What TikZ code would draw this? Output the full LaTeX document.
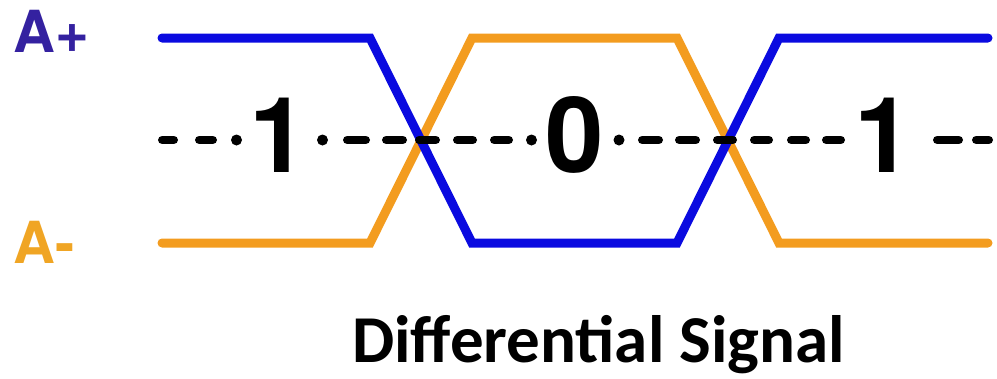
\documentclass[tikz,border=0pt]{standalone}
\usepackage{fontspec}
\newfontfamily\arialb{TeX Gyre Heros}
\newfontfamily\calib{Carlito}
\definecolor{sigblue}{HTML}{0A0AE0}
\definecolor{sigorange}{HTML}{F39C1F}
\definecolor{lblblue}{HTML}{3421A0}
\definecolor{lblorange}{HTML}{F0A524}
\begin{document}
\begin{tikzpicture}[x=1pt,y=-1pt,
  wave/.style={line width=9pt, line cap=round},
  dsh/.style={line width=8.5pt, line cap=round, black},
  dotm/.style={fill=black, draw=none},
  bit/.style={font=\arialb\bfseries\fontsize{105}{105}\selectfont, inner sep=0pt, anchor=base},
  lbl/.style={font=\arialb\bfseries\fontsize{58}{58}\selectfont, inner sep=0pt, anchor=base west},
  title/.style={font=\calib\bfseries\fontsize{67}{67}\selectfont, inner sep=0pt, anchor=base west}]
\useasboundingbox (0,0) rectangle (997,378);
\draw[wave,sigorange] (162,243) -- (370,243) -- (472,38) -- (677,38) -- (779,243) -- (988,243);
\draw[wave,sigblue] (162,38) -- (370,38) -- (472,243) -- (677,243) -- (779,38) -- (988,38);
\foreach \a/\b in {158/178,195/217,343/370,382/407,415/440,453/477,490/513,638/663,675/700,713/737,750/773,787/810,822/845,933/963,972/993}
  \draw[dsh] (\a+4.25,140) -- (\b-4.25,140);
\foreach \px in {236.5,322.5,531.5,619}
  \path[dotm] (\px,140) circle[radius=5.5pt];
\node[bit] (b1) at (279,172) {1};
\node[bit] (b0) at (575,172) {0};
\node[bit] (b2) at (884,172) {1};
\node[lbl,text=lblblue] (ap) at (13,52) {A+};
\node[lbl,text=lblorange] (am) at (13,263) {A-};
\node[title] (t) at (352,362) {Differential Signal};
\end{tikzpicture}
\end{document}
